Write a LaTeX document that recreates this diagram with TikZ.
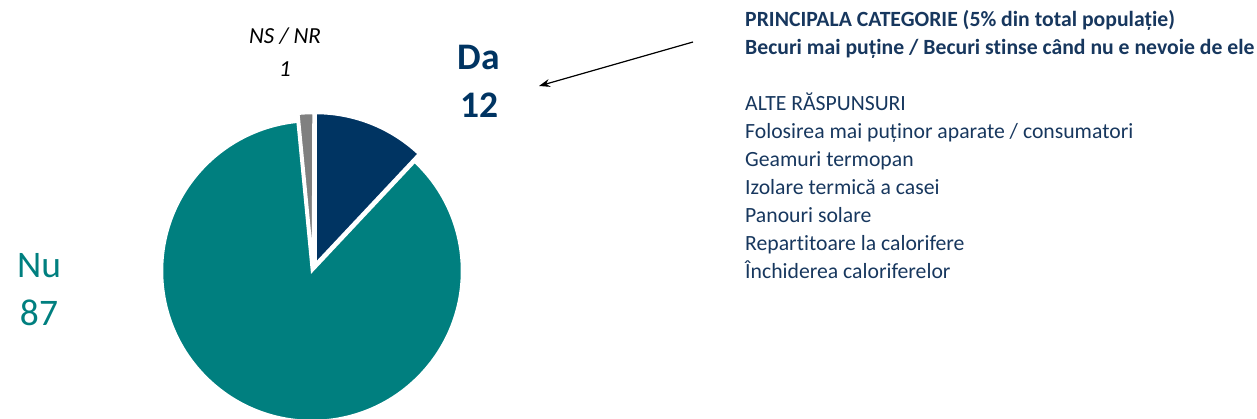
\documentclass[tikz,border=0pt]{standalone}
\usepackage{fontspec}
\setmainfont{Carlito}[Ligatures=NoCommon]
\usetikzlibrary{arrows.meta}
\definecolor{navy}{HTML}{003462}
\definecolor{tealc}{HTML}{007F7F}
\definecolor{grayc}{HTML}{808080}
\definecolor{textblue}{HTML}{17375E}
\tikzset{
  slice/.style={draw=white, line width=2.5pt, line join=miter},
  listtxt/.style={anchor=base west, inner sep=0pt, text=textblue, font=\fontsize{21.7}{24}\selectfont},
  headtxt/.style={listtxt, font=\fontsize{21.7}{24}\selectfont\bfseries},
  biglbl/.style={anchor=base, inner sep=0pt, font=\fontsize{37.5}{40}\selectfont},
  nslbl/.style={anchor=base, inner sep=0pt, font=\fontsize{23}{26}\selectfont\itshape},
}
\begin{document}
\begin{tikzpicture}[x=1pt,y=-1pt]
\useasboundingbox (0,0) rectangle (1257,419);
\clip (0,0) rectangle (1257,419);
% pie
\coordinate (cnu) at (312,271);
\coordinate (cda) at (315.5,264);
\coordinate (cns) at (313,266);
\fill[tealc, slice] (cnu) -- ++(-46.8:150) arc[start angle=-46.8, end angle=264.5, radius=150] -- cycle;
\fill[grayc, slice] (cns) -- ++(264.5:153) arc[start angle=264.5, end angle=270.2, radius=153] -- cycle;
\fill[navy, slice] (cda) -- ++(-90:151) arc[start angle=-90, end angle=-46.8, radius=151] -- cycle;
% labels
\node[biglbl, text=navy, font=\fontsize{37.5}{40}\selectfont\bfseries] (da) at (479,70) {Da};
\node[biglbl, text=navy, font=\fontsize{37.5}{40}\selectfont\bfseries] (da12) at (479,118) {12};
\node[nslbl] (ns) at (285,44) {NS / NR};
\node[nslbl] (ns1) at (285,77) {1};
\node[biglbl, text=tealc] (nu) at (39,278) {Nu};
\node[biglbl, text=tealc] (nu87) at (39,325) {87};
% arrow
\coordinate (arrs) at (693,42);
\coordinate (arre) at (539,86);
\draw[line width=1.2pt, -{Stealth[length=11pt,width=8pt]}] (arrs) -- (arre);
% right text
\node[headtxt] (h1) at (745,27) {PRINCIPALA CATEGORIE (5\% din total populație)};
\node[headtxt] (h2) at (745,55) {Becuri mai puține / Becuri stinse când nu e nevoie de ele};
\node[listtxt] (l0) at (745,111) {ALTE RĂSPUNSURI};
\node[listtxt] (l1) at (745,139) {Folosirea mai puținor aparate / consumatori};
\node[listtxt] (l2) at (745,167) {Geamuri termopan};
\node[listtxt] (l3) at (745,195) {Izolare termică a casei};
\node[listtxt] (l4) at (745,223) {Panouri solare};
\node[listtxt] (l5) at (745,251) {Repartitoare la calorifere};
\node[listtxt] (l6) at (745,279) {Închiderea caloriferelor};
\end{tikzpicture}
\end{document}
